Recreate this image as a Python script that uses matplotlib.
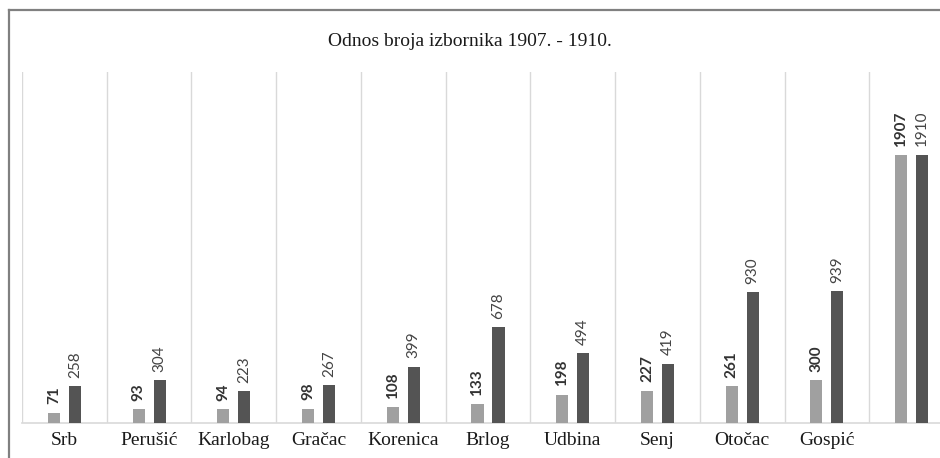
import matplotlib
matplotlib.use("Agg")
import matplotlib.pyplot as plt
from matplotlib.lines import Line2D
import numpy as np

categories = ["Srb", "Perušić", "Karlobag", "Gračac", "Korenica", "Brlog",
              "Udbina", "Senj", "Otočac", "Gospić", ""]
v1907 = [71, 93, 94, 98, 108, 133, 198, 227, 261, 300, 1907]
v1910 = [258, 304, 223, 267, 399, 678, 494, 419, 930, 939, 1910]
title = "Odnos broja izbornika 1907. - 1910."

W, H = 940, 458
fig = plt.figure(figsize=(W / 100, H / 100), dpi=100)
fig.patch.set_facecolor("white")

# plot area (extends past right edge like the cropped reference)
left_px, right_px, top_px, bot_px = 22, 954, 72, 422.5
ax = fig.add_axes([left_px / W, 1 - bot_px / H,
                   (right_px - left_px) / W, (bot_px - top_px) / H])

x = np.arange(len(categories))
bw = 0.142
off = 0.124
c_light = "#a0a0a0"
c_dark = "#545454"
b1 = ax.bar(x - off, v1907, width=bw, color=c_light, zorder=3)
b2 = ax.bar(x + off, v1910, width=bw, color=c_dark, zorder=3)

for rect, v in zip(b1, v1907):
    ax.annotate(str(v), (rect.get_x() + rect.get_width() / 2, rect.get_height()),
                xytext=(0, 6), textcoords="offset points", rotation=90,
                ha="center", va="bottom", fontsize=11, fontweight="bold",
                family="Lato", color="#333333")
for rect, v in zip(b2, v1910):
    ax.annotate(str(v), (rect.get_x() + rect.get_width() / 2, rect.get_height()),
                xytext=(0, 6), textcoords="offset points", rotation=90,
                ha="center", va="bottom", fontsize=11,
                family="Lato", color="#444444")

ax.set_xlim(-0.5, len(categories) - 0.5)
ax.set_ylim(0, 2500)
ax.set_yticks([])
ax.set_xticks(x)
ax.set_xticklabels(categories, family="Liberation Serif", fontsize=14, color="#1a1a1a")
ax.tick_params(axis="x", length=0, pad=7)
ax.set_xticks(np.arange(-0.5, len(categories), 1.0), minor=True)
ax.tick_params(axis="x", which="minor", length=0)
ax.grid(True, which="minor", axis="x", color="#d9d9d9", linewidth=1, zorder=0)
for s in ["top", "left", "right"]:
    ax.spines[s].set_visible(False)
ax.spines["bottom"].set_color("#d9d9d9")
ax.spines["bottom"].set_linewidth(1.2)

fig.text(470 / W, 1 - 41 / H, title, ha="center", va="center",
         family="Liberation Serif", fontsize=14, color="#1a1a1a")

# outer chart frame (cropped at right and bottom)
fig.add_artist(Line2D([8.5 / W, 8.5 / W], [0, 1 - 10 / H], transform=fig.transFigure,
                      color="#808080", linewidth=1.6))
fig.add_artist(Line2D([8.5 / W, 1], [1 - 10 / H, 1 - 10 / H], transform=fig.transFigure,
                      color="#808080", linewidth=1.6))

fig.savefig("out.png", dpi=100, facecolor="white")
